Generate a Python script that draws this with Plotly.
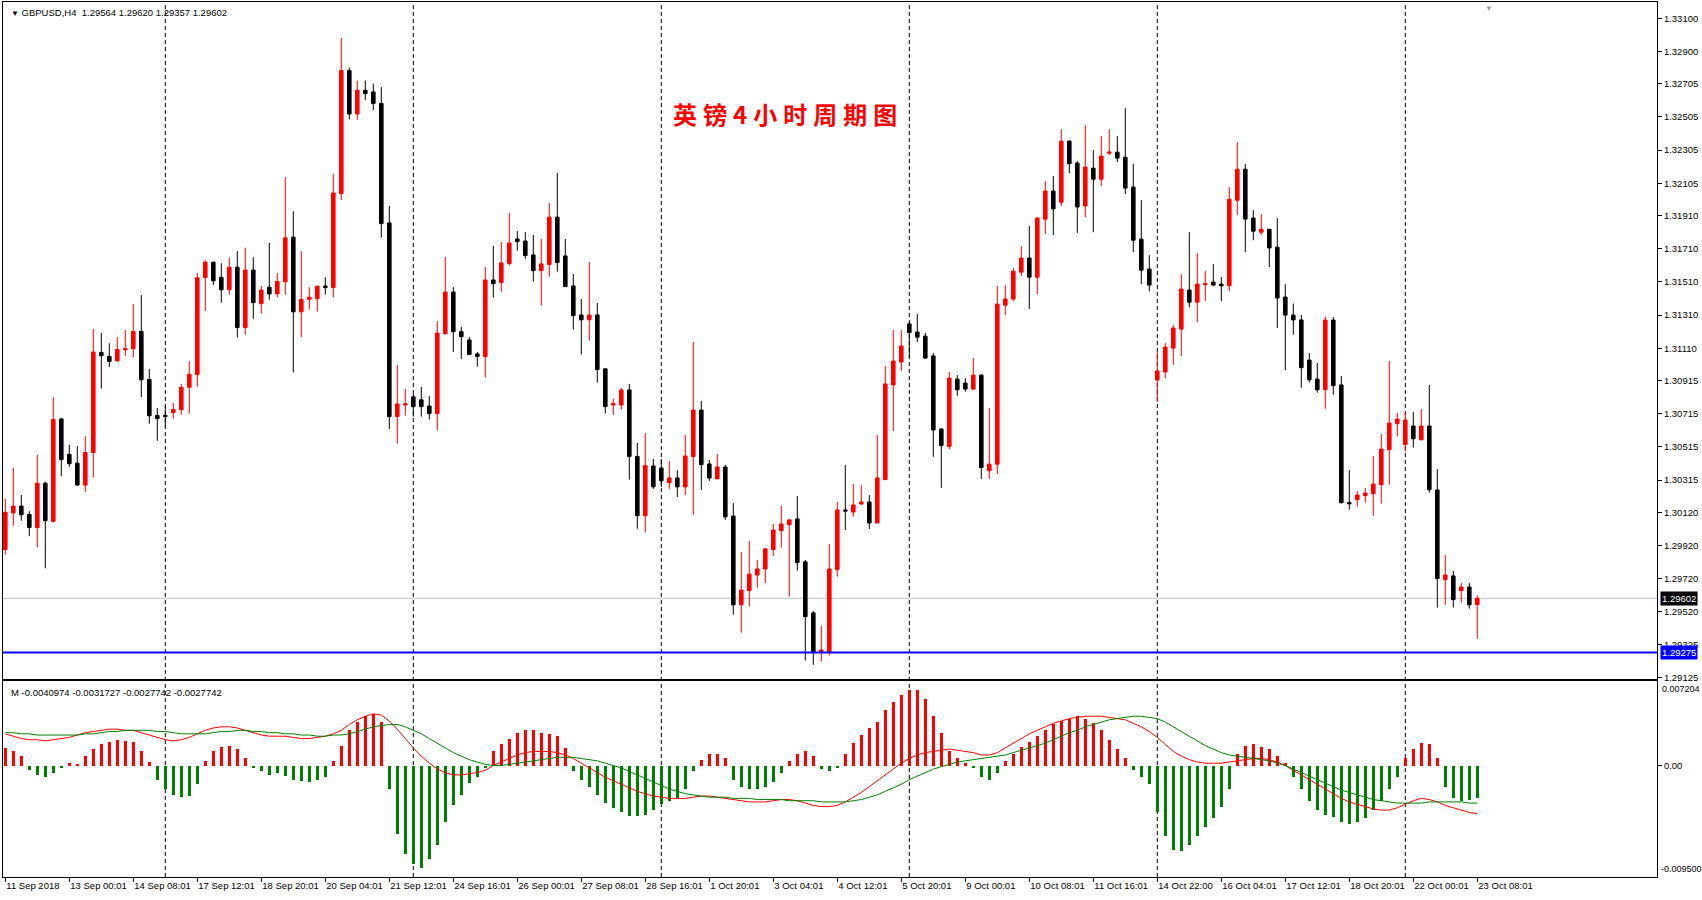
import plotly.graph_objects as go

# ---------------- data ----------------
symbol = "GBPUSD,H4"
title_text = "英镑4小时周期图"

opens = [
    1.29896, 1.30117, 1.30158, 1.30108, 1.30029, 1.30296, 1.30066, 1.30684, 1.30470, 1.30417,
    1.30285, 1.30481, 1.31085, 1.31061, 1.31034, 1.31101, 1.31107, 1.31211, 1.30922, 1.30705,
    1.30705, 1.30723, 1.30739, 1.30875, 1.30951, 1.31537, 1.31629, 1.31538, 1.31463, 1.31599,
    1.31235, 1.31582, 1.31379, 1.31478, 1.31438, 1.31511, 1.31780, 1.31330, 1.31405, 1.31409,
    1.31486, 1.31476, 1.32043, 1.32785, 1.32523, 1.32666, 1.32656, 1.32587, 1.31866, 1.30698,
    1.30768, 1.30817, 1.30799, 1.30762, 1.30716, 1.31198, 1.31449, 1.31210, 1.31160, 1.31076,
    1.31060, 1.31522, 1.31506, 1.31621, 1.31769, 1.31757, 1.31673, 1.31578, 1.31615, 1.31901,
    1.31667, 1.31486, 1.31311, 1.31282, 1.31311, 1.30986, 1.30768, 1.30768, 1.30859, 1.30458,
    1.30100, 1.30400, 1.30388, 1.30299, 1.30328, 1.30274, 1.30457, 1.30737, 1.30412, 1.30322,
    1.30394, 1.30098, 1.29563, 1.29648, 1.29742, 1.29779, 1.29896, 1.30010, 1.30046, 1.30081,
    1.29822, 1.29514, 1.29281, 1.29281, 1.29775, 1.30135, 1.30122, 1.30171, 1.30183, 1.30056,
    1.30318, 1.30889, 1.31027, 1.31257, 1.31208, 1.31183, 1.31064, 1.30623, 1.30517, 1.30924,
    1.30900, 1.30864, 1.30948, 1.30371, 1.30411, 1.31370, 1.31407, 1.31569, 1.31654, 1.31539,
    1.31889, 1.32058, 1.31991, 1.32359, 1.32227, 1.31968, 1.32196, 1.32130, 1.32287, 1.32293,
    1.32262, 1.32082, 1.31768, 1.31588, 1.30918, 1.30967, 1.31111, 1.31226, 1.31461, 1.31388,
    1.31493, 1.31509, 1.31497, 1.31487, 1.32003, 1.32190, 1.31895, 1.31810, 1.31828, 1.31720,
    1.31419, 1.31310, 1.31281, 1.31039, 1.30924, 1.30860, 1.31280, 1.30889, 1.30179, 1.30197,
    1.30221, 1.30233, 1.30287, 1.30498, 1.30655, 1.30529, 1.30641, 1.30558, 1.30641, 1.30255,
    1.29715, 1.29737, 1.29648, 1.29670, 1.29564,
]
highs = [
    1.30203, 1.30390, 1.30225, 1.30128, 1.30466, 1.30306, 1.30815, 1.30690, 1.30527, 1.30520,
    1.30580, 1.31226, 1.31202, 1.31140, 1.31177, 1.31220, 1.31377, 1.31431, 1.30985, 1.30750,
    1.30759, 1.30781, 1.30895, 1.31032, 1.31564, 1.31642, 1.31633, 1.31623, 1.31657, 1.31696,
    1.31716, 1.31659, 1.31485, 1.31745, 1.31564, 1.32142, 1.31937, 1.31696, 1.31478, 1.31485,
    1.31538, 1.32162, 1.32981, 1.32804, 1.32725, 1.32725, 1.32706, 1.32686, 1.31969, 1.31009,
    1.30865, 1.30834, 1.30877, 1.30822, 1.31274, 1.31661, 1.31480, 1.31239, 1.31178, 1.31087,
    1.31601, 1.31727, 1.31751, 1.31926, 1.31817, 1.31811, 1.31794, 1.31769, 1.31987, 1.32167,
    1.31769, 1.31558, 1.31407, 1.31630, 1.31383, 1.30986, 1.30805, 1.30871, 1.30895, 1.30539,
    1.30599, 1.30443, 1.30443, 1.30430, 1.30375, 1.30587, 1.31148, 1.30792, 1.30436, 1.30472,
    1.30406, 1.30177, 1.29881, 1.29948, 1.29833, 1.29906, 1.30050, 1.30159, 1.30081, 1.30219,
    1.29833, 1.29526, 1.29437, 1.29929, 1.30183, 1.30406, 1.30291, 1.30285, 1.30225, 1.30587,
    1.31003, 1.31220, 1.31220, 1.31268, 1.31317, 1.31202, 1.31082, 1.30629, 1.30967, 1.30949,
    1.30930, 1.31051, 1.30954, 1.30749, 1.31485, 1.31491, 1.31594, 1.31726, 1.31847, 1.31901,
    1.32118, 1.32149, 1.32432, 1.32365, 1.32239, 1.32456, 1.32305, 1.32390, 1.32432, 1.32390,
    1.32558, 1.32223, 1.32003, 1.31672, 1.31087, 1.31141, 1.31250, 1.31557, 1.31810, 1.31684,
    1.31575, 1.31618, 1.31539, 1.32082, 1.32353, 1.32221, 1.31943, 1.31919, 1.31828, 1.31895,
    1.31497, 1.31380, 1.31311, 1.31082, 1.31021, 1.31301, 1.31298, 1.30943, 1.30375, 1.30249,
    1.30268, 1.30460, 1.30593, 1.31033, 1.30720, 1.30726, 1.30726, 1.30743, 1.30889, 1.30381,
    1.29863, 1.29767, 1.29694, 1.29694, 1.29620,
]
lows = [
    1.29865, 1.30039, 1.30070, 1.29977, 1.29909, 1.29783, 1.30059, 1.30339, 1.30395, 1.30280,
    1.30244, 1.30330, 1.30867, 1.30998, 1.31028, 1.31065, 1.31054, 1.30815, 1.30655, 1.30552,
    1.30638, 1.30686, 1.30710, 1.30716, 1.30878, 1.31336, 1.31491, 1.31385, 1.31433, 1.31175,
    1.31191, 1.31288, 1.31319, 1.31403, 1.31418, 1.31433, 1.30964, 1.31178, 1.31343, 1.31330,
    1.31434, 1.31416, 1.32004, 1.32490, 1.32488, 1.32607, 1.32547, 1.31777, 1.30622, 1.30535,
    1.30704, 1.30698, 1.30698, 1.30680, 1.30614, 1.31192, 1.31087, 1.31046, 1.31072, 1.30999,
    1.30933, 1.31416, 1.31451, 1.31609, 1.31699, 1.31650, 1.31512, 1.31367, 1.31542, 1.31572,
    1.31482, 1.31223, 1.31072, 1.31156, 1.30903, 1.30716, 1.30708, 1.30740, 1.30318, 1.30022,
    1.29999, 1.30262, 1.30274, 1.30262, 1.30213, 1.30225, 1.30104, 1.30256, 1.30309, 1.30322,
    1.30075, 1.29503, 1.29395, 1.29552, 1.29666, 1.29694, 1.29857, 1.29908, 1.29612, 1.29769,
    1.29226, 1.29201, 1.29220, 1.29256, 1.29733, 1.30014, 1.30093, 1.30165, 1.30020, 1.30056,
    1.30315, 1.30611, 1.30973, 1.31057, 1.31148, 1.31045, 1.30455, 1.30268, 1.30502, 1.30824,
    1.30848, 1.30858, 1.30322, 1.30322, 1.30352, 1.31310, 1.31394, 1.31545, 1.31347, 1.31437,
    1.31799, 1.31793, 1.31968, 1.32167, 1.31805, 1.31901, 1.31810, 1.32088, 1.32275, 1.32233,
    1.32040, 1.31690, 1.31497, 1.31454, 1.30786, 1.30930, 1.31008, 1.31063, 1.31358, 1.31267,
    1.31394, 1.31485, 1.31394, 1.31454, 1.31913, 1.31690, 1.31762, 1.31793, 1.31600, 1.31232,
    1.30979, 1.31192, 1.30872, 1.30903, 1.30842, 1.30745, 1.30830, 1.30173, 1.30137, 1.30155,
    1.30179, 1.30100, 1.30173, 1.30287, 1.30577, 1.30486, 1.30511, 1.30558, 1.30239, 1.29546,
    1.29563, 1.29546, 1.29575, 1.29540, 1.29357,
]
closes = [
    1.30121, 1.30158, 1.30106, 1.30029, 1.30296, 1.30070, 1.30681, 1.30438, 1.30414, 1.30285,
    1.30481, 1.31087, 1.31065, 1.31030, 1.31103, 1.31107, 1.31211, 1.30920, 1.30703, 1.30686,
    1.30699, 1.30741, 1.30875, 1.30953, 1.31535, 1.31629, 1.31517, 1.31463, 1.31599, 1.31235,
    1.31582, 1.31385, 1.31461, 1.31438, 1.31513, 1.31776, 1.31330, 1.31405, 1.31418, 1.31485,
    1.31476, 1.32047, 1.32785, 1.32523, 1.32666, 1.32646, 1.32587, 1.31862, 1.30698, 1.30774,
    1.30774, 1.30758, 1.30758, 1.30716, 1.31202, 1.31449, 1.31210, 1.31180, 1.31072, 1.31060,
    1.31522, 1.31500, 1.31625, 1.31745, 1.31753, 1.31669, 1.31578, 1.31619, 1.31901, 1.31627,
    1.31482, 1.31307, 1.31282, 1.31311, 1.30982, 1.30758, 1.30776, 1.30859, 1.30458, 1.30100,
    1.30402, 1.30274, 1.30311, 1.30328, 1.30274, 1.30460, 1.30737, 1.30408, 1.30328, 1.30394,
    1.30093, 1.29563, 1.29652, 1.29748, 1.29779, 1.29900, 1.30014, 1.30050, 1.30075, 1.29817,
    1.29491, 1.29281, 1.29290, 1.29779, 1.30135, 1.30128, 1.30165, 1.30183, 1.30056, 1.30328,
    1.30895, 1.31033, 1.31124, 1.31204, 1.31177, 1.31051, 1.30617, 1.30523, 1.30930, 1.30860,
    1.30864, 1.30948, 1.30391, 1.30411, 1.31376, 1.31407, 1.31575, 1.31654, 1.31539, 1.31895,
    1.32058, 1.31951, 1.32359, 1.32223, 1.31962, 1.32203, 1.32130, 1.32269, 1.32293, 1.32257,
    1.32076, 1.31762, 1.31581, 1.31491, 1.30973, 1.31117, 1.31232, 1.31467, 1.31388, 1.31497,
    1.31499, 1.31491, 1.31487, 1.32009, 1.32190, 1.31889, 1.31816, 1.31828, 1.31715, 1.31413,
    1.31310, 1.31281, 1.30993, 1.30920, 1.30860, 1.31280, 1.30885, 1.30179, 1.30173, 1.30225,
    1.30237, 1.30291, 1.30502, 1.30659, 1.30683, 1.30677, 1.30564, 1.30641, 1.30257, 1.29721,
    1.29742, 1.29594, 1.29670, 1.29563, 1.29602,
]

macd_hist = [
    0.0015, 0.0012, 0.0008, -0.0004, -0.0008, -0.0010, -0.0006, -0.0002, 0.0002, 0.0001,
    0.0008, 0.0014, 0.0018, 0.0020, 0.0022, 0.0021, 0.0020, 0.0012, 0.0003, -0.0012,
    -0.0020, -0.0025, -0.0027, -0.0026, -0.0016, 0.0004, 0.0012, 0.0016, 0.0017, 0.0014,
    0.0006, -0.0002, -0.0005, -0.0008, -0.0006, -0.0009, -0.0012, -0.0013, -0.0014, -0.0012,
    -0.0010, 0.0004, 0.0017, 0.0030, 0.0037, 0.0042, 0.0044, 0.0037, -0.0020, -0.0058,
    -0.0075, -0.0084, -0.0087, -0.0080, -0.0068, -0.0048, -0.0034, -0.0025, -0.0015, -0.0010,
    -0.0002, 0.0012, 0.0018, 0.0023, 0.0028, 0.0030, 0.0030, 0.0028, 0.0027, 0.0025,
    0.0015, -0.0005, -0.0012, -0.0018, -0.0025, -0.0032, -0.0036, -0.0040, -0.0043, -0.0043,
    -0.0042, -0.0038, -0.0033, -0.0030, -0.0028, -0.0020, -0.0005, 0.0005, 0.0010, 0.0010,
    0.0006, -0.0012, -0.0018, -0.0020, -0.0020, -0.0018, -0.0014, -0.0006, 0.0004, 0.0010,
    0.0012, 0.0008, -0.0003, -0.0005, -0.0002, 0.0010, 0.0019, 0.0026, 0.0032, 0.0037,
    0.0047, 0.0054, 0.0060, 0.0064, 0.0064, 0.0057, 0.0042, 0.0028, 0.0012, 0.0006,
    0.0002, -0.0002, -0.0010, -0.0012, -0.0006, 0.0004, 0.0010, 0.0016, 0.0020, 0.0025,
    0.0030, 0.0035, 0.0038, 0.0040, 0.0042, 0.0040, 0.0036, 0.0030, 0.0022, 0.0014,
    0.0006, -0.0004, -0.0010, -0.0016, -0.0040, -0.0060, -0.0072, -0.0073, -0.0068, -0.0060,
    -0.0052, -0.0045, -0.0035, -0.0020, 0.0010, 0.0017, 0.0018, 0.0016, 0.0014, 0.0008,
    0.0002, -0.0010, -0.0020, -0.0030, -0.0038, -0.0042, -0.0044, -0.0048, -0.0050, -0.0048,
    -0.0045, -0.0038, -0.0030, -0.0020, -0.0010, 0.0006, 0.0014, 0.0019, 0.0018, 0.0006,
    -0.0018, -0.0028, -0.0030, -0.0029, -0.0028,
]
macd_main = [
    0.0027, 0.0025, 0.0023, 0.0022, 0.0022, 0.0021, 0.0022,
    0.0023, 0.0024, 0.0026, 0.0028, 0.0029, 0.0030,
    0.0031, 0.0031, 0.0030, 0.0030, 0.0028, 0.0026,
    0.0024, 0.0022, 0.0021, 0.0022, 0.0024, 0.0027,
    0.0030, 0.0032, 0.0033, 0.0033, 0.0032, 0.0030,
    0.0028, 0.0026, 0.0025, 0.0025, 0.0025, 0.0024, 0.0023, 0.0023, 0.0024, 0.0025, 0.0027,
    0.0030, 0.0035, 0.0039, 0.0042, 0.0044, 0.0043, 0.0038,
    0.0031, 0.0023, 0.0015, 0.0008, 0.0002, -0.0003, -0.0006,
    -0.0008, -0.0008, -0.0007, -0.0006, -0.0004,
    0.0000, 0.0003, 0.0006, 0.0009, 0.0011, 0.0012, 0.0012, 0.0012, 0.0011, 0.0009,
    0.0006, 0.0002, -0.0002, -0.0006, -0.0010, -0.0013, -0.0016, -0.0019, -0.0022, -0.0024,
    -0.0026, -0.0027, -0.0028, -0.0028, -0.0028, -0.0027,
    -0.0026, -0.0026, -0.0027, -0.0028, -0.0029, -0.0030, -0.0031, -0.0031, -0.0031, -0.0030,
    -0.0029, -0.0029, -0.0030, -0.0032, -0.0034, -0.0035, -0.0035, -0.0034,
    -0.0031, -0.0027, -0.0023, -0.0018, -0.0013, -0.0008, -0.0003, 0.0002, 0.0006, 0.0009,
    0.0011, 0.0012, 0.0013,
    0.0014, 0.0013, 0.0012, 0.0011, 0.0009, 0.0009, 0.0011,
    0.0015, 0.0019, 0.0023, 0.0027, 0.0030, 0.0033, 0.0036, 0.0038, 0.0040, 0.0041,
    0.0042, 0.0042, 0.0042, 0.0041, 0.0040,
    0.0039, 0.0036, 0.0033, 0.0029, 0.0024, 0.0018, 0.0012, 0.0008, 0.0005, 0.0003,
    0.0002, 0.0002, 0.0002, 0.0003, 0.0004, 0.0005,
    0.0006, 0.0006, 0.0005, 0.0003, 0.0000, -0.0004, -0.0008, -0.0012, -0.0016, -0.0020,
    -0.0024, -0.0028, -0.0031, -0.0033, -0.0035, -0.0037, -0.0038, -0.0038, -0.0036,
    -0.0033, -0.0030, -0.0028, -0.0029, -0.0031, -0.0034, -0.0036, -0.0038, -0.0040, -0.0041,
]
macd_signal = [
    0.0028, 0.0028, 0.0027, 0.0027, 0.0026, 0.0026, 0.0026, 0.0026, 0.0026, 0.0026,
    0.0027, 0.0027, 0.0028, 0.0029, 0.0029, 0.0030, 0.0030, 0.0030, 0.0030, 0.0029, 0.0029,
    0.0028, 0.0027, 0.0027, 0.0027, 0.0027, 0.0028, 0.0029, 0.0029, 0.0030, 0.0030,
    0.0029, 0.0029, 0.0028, 0.0028, 0.0027, 0.0027, 0.0026, 0.0026, 0.0025, 0.0025, 0.0026,
    0.0026, 0.0027, 0.0029, 0.0031, 0.0033, 0.0034, 0.0035, 0.0035, 0.0033, 0.0030,
    0.0027, 0.0023, 0.0019, 0.0015,
    0.0011, 0.0008, 0.0005, 0.0003, 0.0001, 0.0000, 0.0000, 0.0001, 0.0002, 0.0003,
    0.0004, 0.0005, 0.0006, 0.0007, 0.0007,
    0.0007, 0.0006, 0.0005, 0.0004, 0.0002, 0.0000, -0.0002, -0.0005, -0.0008, -0.0011,
    -0.0014, -0.0017, -0.0020, -0.0022, -0.0024, -0.0025, -0.0026, -0.0027, -0.0027, -0.0027,
    -0.0028, -0.0028, -0.0028, -0.0029, -0.0029, -0.0029, -0.0029, -0.0030, -0.0030, -0.0030,
    -0.0030, -0.0031, -0.0031, -0.0031, -0.0031, -0.0030, -0.0029, -0.0027, -0.0025, -0.0022,
    -0.0019, -0.0016, -0.0012, -0.0009, -0.0006, -0.0003, -0.0001, 0.0001, 0.0003, 0.0004,
    0.0005, 0.0006, 0.0007, 0.0008, 0.0009,
    0.0011, 0.0013, 0.0015, 0.0017, 0.0019, 0.0022, 0.0025, 0.0028, 0.0030, 0.0033,
    0.0035, 0.0037, 0.0039, 0.0040, 0.0041, 0.0042, 0.0042, 0.0041, 0.0040, 0.0037,
    0.0033, 0.0029, 0.0025, 0.0021, 0.0017, 0.0014, 0.0011, 0.0009, 0.0008, 0.0007,
    0.0006, 0.0005, 0.0004, 0.0002, 0.0000, -0.0003, -0.0006, -0.0009, -0.0012, -0.0015,
    -0.0018, -0.0021, -0.0023, -0.0025, -0.0027, -0.0029, -0.0030, -0.0031, -0.0032, -0.0032,
    -0.0032, -0.0032, -0.0031, -0.0031, -0.0031, -0.0031, -0.0031, -0.0032, -0.0032,
]
macd_header_values = [-0.0040974, -0.0031727, -0.0027742, -0.0027742]

time_labels = [
    "11 Sep 2018", "13 Sep 00:01", "14 Sep 08:01", "17 Sep 12:01", "18 Sep 20:01",
    "20 Sep 04:01", "21 Sep 12:01", "24 Sep 16:01", "26 Sep 00:01", "27 Sep 08:01",
    "28 Sep 16:01", "1 Oct 20:01", "3 Oct 04:01", "4 Oct 12:01", "5 Oct 20:01",
    "9 Oct 00:01", "10 Oct 08:01", "11 Oct 16:01", "14 Oct 22:00", "16 Oct 04:01",
    "17 Oct 12:01", "18 Oct 20:01", "22 Oct 00:01", "23 Oct 08:01",
]
bars_per_label = 8
week_start_bars = [20, 51, 82, 113, 144, 175]

price_ticks = [1.33100, 1.32900, 1.32705, 1.32505, 1.32305, 1.32105, 1.31910, 1.31710,
               1.31510, 1.31310, 1.31110, 1.30915, 1.30715, 1.30515, 1.30315, 1.30120,
               1.29920, 1.29720, 1.29520, 1.29325, 1.29125]
hline_level = 1.29275
macd_max = 0.007204
macd_min = -0.009500

# ---------------- layout helpers (pixel geometry) ----------------
W, H = 1702, 900
PL, PR, PT, PB = 3, 1657, 2, 877          # plot area in pixels
MAIN_BOTTOM, SUB_TOP = 679, 681
PW, PH = PR - PL, PB - PT


def px_x(px):
    return (px - PL) / PW


def px_y(py):
    return (PB - py) / PH


BAR_PX = 8.0
FIRST_BAR_PX = 5.3
x_lo = -(FIRST_BAR_PX - PL) / BAR_PX
x_hi = x_lo + PW / BAR_PX

PX_PER_PRICE = 16580.0
GRAY_Y = 598.3
p_top = closes[-1] + (GRAY_Y - PT) / PX_PER_PRICE
p_bot = closes[-1] - (MAIN_BOTTOM - GRAY_Y) / PX_PER_PRICE

FONT = "Liberation Sans, Arial, sans-serif"
x = list(range(len(opens)))

fig = go.Figure()

fig.add_trace(go.Candlestick(
    x=x, open=opens, high=highs, low=lows, close=closes,
    increasing=dict(line=dict(color="#FF0000", width=1), fillcolor="#FF0000"),
    decreasing=dict(line=dict(color="#000000", width=1), fillcolor="#000000"),
    whiskerwidth=0, xaxis="x", yaxis="y", showlegend=False, hoverinfo="skip",
))

fig.add_trace(go.Bar(
    x=x, y=macd_hist,
    marker=dict(color=["#FF0000" if v >= 0 else "#008000" for v in macd_hist], line=dict(width=0)),
    width=0.38, xaxis="x2", yaxis="y2", showlegend=False, hoverinfo="skip",
))
fig.add_trace(go.Scatter(
    x=x, y=macd_main, mode="lines", line=dict(color="#FF0000", width=1),
    xaxis="x2", yaxis="y2", showlegend=False, hoverinfo="skip",
))
fig.add_trace(go.Scatter(
    x=x, y=macd_signal, mode="lines", line=dict(color="#008000", width=1),
    xaxis="x2", yaxis="y2", showlegend=False, hoverinfo="skip",
))

shapes = []
for b in week_start_bars:
    shapes.append(dict(type="line", xref="x", yref="paper", x0=b, x1=b, y0=0, y1=1,
                       line=dict(color="#000000", width=1, dash="4px,3px"), layer="below"))
shapes.append(dict(type="line", xref="paper", yref="y", x0=0, x1=1, y0=closes[-1], y1=closes[-1],
                   line=dict(color="#C0C0C0", width=1), layer="below"))
shapes.append(dict(type="line", xref="paper", yref="y", x0=0, x1=1, y0=hline_level, y1=hline_level,
                   line=dict(color="#0000FF", width=2), layer="above"))

annotations = [
    dict(xref="paper", yref="paper", x=px_x(9), y=px_y(12.5), xanchor="left", yanchor="middle",
         text="<span style='font-size:8px'>▼</span> " + symbol + "  " + " ".join(
             f"{v:.5f}" for v in (opens[-1], highs[-1], lows[-1], closes[-1])),
         showarrow=False, font=dict(family=FONT, size=9.5, color="#000000")),
    dict(xref="paper", yref="paper", x=px_x(785), y=px_y(113), xanchor="center", yanchor="middle",
         text="<b>" + "\u2005".join(title_text) + "</b>", showarrow=False,
         font=dict(family="Noto Sans CJK SC", size=24, color="#FF0000")),
    dict(xref="paper", yref="y", x=1, y=closes[-1], xanchor="left", yanchor="middle", xshift=3,
         text=f"{closes[-1]:.5f}", showarrow=False, bgcolor="#000000", borderpad=1,
         font=dict(family=FONT, size=9.5, color="#FFFFFF")),
    dict(xref="paper", yref="y", x=1, y=hline_level, xanchor="left", yanchor="middle", xshift=3,
         text=f"{hline_level:.5f}", showarrow=False, bgcolor="#0000FF", borderpad=1,
         font=dict(family=FONT, size=9.5, color="#FFFFFF")),
    dict(xref="paper", yref="paper", x=px_x(9), y=px_y(692.5), xanchor="left", yanchor="middle",
         text="M " + " ".join(f"{v:.7f}" for v in macd_header_values), showarrow=False,
         font=dict(family=FONT, size=9.5, color="#000000")),
    dict(xref="paper", yref="paper", x=1, y=px_y(SUB_TOP + 1), xanchor="left", yanchor="top", xshift=3,
         text=f"{macd_max:.6f}", showarrow=False, font=dict(family=FONT, size=9, color="#000000")),
    dict(xref="paper", yref="paper", x=1, y=px_y(PB - 1), xanchor="left", yanchor="bottom", xshift=2,
         text=f"{macd_min:.6f}", showarrow=False, font=dict(family=FONT, size=9, color="#000000")),
    dict(xref="paper", yref="paper", x=px_x(1489), y=1, xanchor="center", yanchor="top",
         text="▼", showarrow=False, font=dict(family=FONT, size=8, color="#A0A0A0")),
]

axis_common = dict(showgrid=False, zeroline=False, showline=True, linecolor="#000000",
                   linewidth=1, mirror=True, automargin=False)

fig.update_layout(
    width=W, height=H, autosize=False,
    margin=dict(l=PL, r=W - PR, t=PT, b=H - PB, pad=0, autoexpand=False),
    paper_bgcolor="#FFFFFF", plot_bgcolor="#FFFFFF",
    font=dict(family=FONT, size=9.5, color="#000000"),
    showlegend=False, boxgap=0.36, bargap=0,
    xaxis=dict(domain=[0, 1], anchor="y", range=[x_lo, x_hi], showticklabels=False,
               ticks="", rangeslider=dict(visible=False), **axis_common),
    xaxis2=dict(domain=[0, 1], anchor="y2", matches="x", range=[x_lo, x_hi],
                tickmode="array",
                tickvals=[i * bars_per_label for i in range(len(time_labels))],
                ticktext=time_labels, ticks="outside", ticklen=4, tickcolor="#000000",
                tickangle=0, ticklabelposition="outside right",
                tickfont=dict(family=FONT, size=9.5, color="#000000"), **axis_common),
    yaxis=dict(domain=[px_y(MAIN_BOTTOM), 1], anchor="x", side="right", range=[p_bot, p_top],
               tickmode="array", tickvals=price_ticks, ticktext=[f"{v:.5f}" for v in price_ticks],
               ticks="outside", ticklen=4, tickcolor="#000000",
               tickfont=dict(family=FONT, size=9.5, color="#000000"), **axis_common),
    yaxis2=dict(domain=[0, px_y(SUB_TOP)], anchor="x2", side="right", range=[macd_min, macd_max],
                tickmode="array", tickvals=[0], ticktext=["0.00"],
                ticks="outside", ticklen=4, tickcolor="#000000",
                tickfont=dict(family=FONT, size=9.5, color="#000000"), **axis_common),
    shapes=shapes, annotations=annotations,
)

fig.write_html("out.html")
